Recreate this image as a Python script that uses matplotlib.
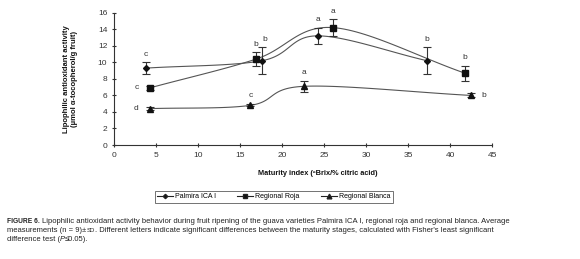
import numpy as np
import matplotlib.pyplot as plt
from matplotlib import font_manager

# data
palmira_x = [3.8, 17.6, 24.2, 37.2]
palmira_y = [9.3, 10.2, 13.2, 10.2]
palmira_err = [0.75, 1.65, 1.0, 1.65]
palmira_lbl = ["c", "b", "a", "b"]

roja_x = [4.2, 16.9, 26.0, 41.7]
roja_y = [6.9, 10.4, 14.2, 8.7]
roja_err = [0.25, 0.85, 1.05, 0.9]
roja_lbl = ["c", "b", "a", "b"]

blanca_x = [4.2, 16.2, 22.6, 42.4]
blanca_y = [4.4, 4.8, 7.1, 6.0]
blanca_err = [0.15, 0.12, 0.65, 0.25]
blanca_lbl = ["d", "c", "a", "b"]

names = ["Palmira ICA I", "Regional Roja", "Regional Blanca"]

names_avail = {f.name for f in font_manager.fontManager.ttflist}
narrow = "Liberation Sans Narrow" if "Liberation Sans Narrow" in names_avail else "Liberation Sans"
plt.rcParams['font.family'] = [narrow, 'DejaVu Sans']

ink = "#333333"


def smooth(x, y, n=30):
    # Catmull-Rom style curve through the points (like spreadsheet smoothed lines)
    x = np.asarray(x, float)
    y = np.asarray(y, float)
    px = np.concatenate([[2 * x[0] - x[1]], x, [2 * x[-1] - x[-2]]])
    py = np.concatenate([[2 * y[0] - y[1]], y, [2 * y[-1] - y[-2]]])
    xs, ys = [], []
    t = np.linspace(0, 1, n)
    for i in range(1, len(px) - 2):
        p0, p1, p2, p3 = [np.array([px[j], py[j]]) for j in range(i - 1, i + 3)]
        m1 = (p2 - p0) / 6
        m2 = (p3 - p1) / 6
        for tt in t:
            b = (1 - tt) ** 3 * p1 + 3 * (1 - tt) ** 2 * tt * (p1 + m1) \
                + 3 * (1 - tt) * tt ** 2 * (p2 - m2) + tt ** 3 * p2
            xs.append(b[0])
            ys.append(b[1])
    return xs, ys


fig = plt.figure(figsize=(5.8, 2.59), dpi=100)
ax = fig.add_axes([0.197, 0.44, 0.652, 0.511])

series = [
    (palmira_x, palmira_y, palmira_err, "D", 3.0),
    (roja_x, roja_y, roja_err, "s", 4.2),
    (blanca_x, blanca_y, blanca_err, "^", 4.2),
]
handles = []
for (x, y, e, m, ms), name in zip(series, names):
    sx, sy = smooth(x, y)
    ax.plot(sx, sy, color="#555555", lw=0.8, zorder=2)
    ax.errorbar(x, y, yerr=e, fmt="none", ecolor=ink, elinewidth=0.8,
                capsize=3, capthick=0.8, zorder=3)
    ax.plot(x, y, ls="none", marker=m, ms=ms, color="#111111", zorder=4)
    h, = ax.plot([], [], color="#222222", lw=0.8, marker=m, ms=ms - 0.8,
                 markerfacecolor="#111111")
    handles.append(h)

# significance letters
fs_l = 6
for x, y, e, l in zip(palmira_x, palmira_y, palmira_err, palmira_lbl):
    ax.text(x + (0.3 if l == "b" and x < 20 else 0), y + e + 0.5, l,
            ha="center", va="bottom", fontsize=fs_l, color=ink)
for i, (x, y, e, l) in enumerate(zip(roja_x, roja_y, roja_err, roja_lbl)):
    if i == 0:
        ax.text(x - 1.3, y, l, ha="right", va="center", fontsize=fs_l, color=ink)
    else:
        ax.text(x, y + e + 0.5, l, ha="center", va="bottom", fontsize=fs_l, color=ink)
for i, (x, y, e, l) in enumerate(zip(blanca_x, blanca_y, blanca_err, blanca_lbl)):
    if i == 0:
        ax.text(x - 1.3, y, l, ha="right", va="center", fontsize=fs_l, color=ink)
    elif i == 3:
        ax.text(x + 1.3, y, l, ha="left", va="center", fontsize=fs_l, color=ink)
    else:
        ax.text(x, y + e + 0.6, l, ha="center", va="bottom", fontsize=fs_l, color=ink)

ax.set_xlim(0, 45)
ax.set_ylim(0, 16)
ax.set_xticks(range(0, 46, 5))
ax.set_yticks(range(0, 17, 2))
for s in ["top", "right"]:
    ax.spines[s].set_visible(False)
for s in ["left", "bottom"]:
    ax.spines[s].set_color(ink)
    ax.spines[s].set_linewidth(0.8)
ax.tick_params(labelsize=6, colors=ink, length=3, width=0.8, direction="inout")

ax.set_xlabel("Maturity index (ºBrix/% citric acid)", fontsize=5.3, fontweight="bold",
              color="#111111", labelpad=9)
ax.xaxis.set_label_coords(0.537, -0.19)
ax.set_ylabel("Lipophilic antioxidant activity\n(µmol α-tocopherol/g fruit)",
              fontsize=5.5, fontweight="bold", color="#111111", labelpad=14,
              linespacing=1.2)

leg = fig.legend(handles, names, loc="center", bbox_to_anchor=(0.472, 0.240),
                 ncol=3, fontsize=5, frameon=True, fancybox=False,
                 edgecolor="#333333", handlelength=2.3, columnspacing=3.0,
                 borderpad=0.4, handletextpad=0.3)
leg.get_frame().set_linewidth(0.6)

# caption, pieces placed one after another
cap_fs = 5.5
cap_col = "#222222"
r = fig.canvas.get_renderer()


def put(x, y, s, **kw):
    t = fig.text(x, y, s, fontsize=kw.pop("fontsize", cap_fs), color=cap_col, **kw)
    bb = t.get_window_extent(renderer=r)
    return bb.x1 / fig.bbox.width


y1, y2, y3 = 0.138, 0.104, 0.070
x = put(0.012, y1, "FIGURE 6.", fontsize=cap_fs - 0.7, fontweight="bold")
put(x + 0.004, y1,
    "Lipophilic antioxidant activity behavior during fruit ripening of the guava varieties "
    "Palmira ICA I, regional roja and regional blanca. Average")
x = put(0.012, y2, "measurements (n = 9)±")
x = put(x, y2, "SD", fontsize=cap_fs - 1.2)
put(x, y2, ". Different letters indicate significant differences between "
    "the maturity stages, calculated with Fisher's least significant")
x = put(0.012, y3, "difference test (")
x = put(x, y3, "P", style="italic")
put(x, y3, "≤0.05).")

fig.savefig("out.png", dpi=100)
